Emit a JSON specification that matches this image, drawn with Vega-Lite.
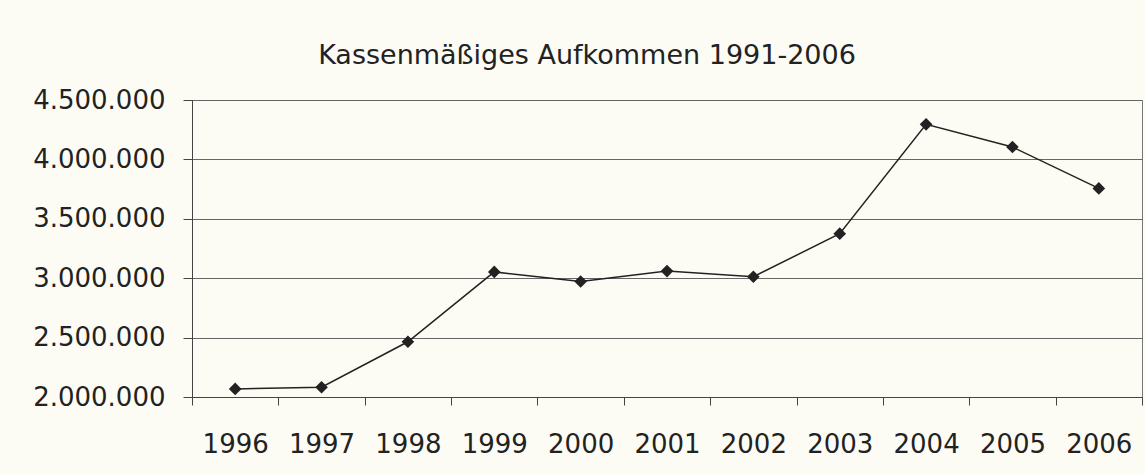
{
  "$schema": "https://vega.github.io/schema/vega-lite/v6.json",
  "width": 950,
  "height": 297,
  "autosize": {"type": "none"},
  "padding": {"left": 192, "top": 100, "right": 3, "bottom": 78},
  "background": "#fcfcf5",
  "config": {
    "locale": {"number": {"decimal": ",", "thousands": ".", "grouping": [3], "currency": ["", " €"]}},
    "view": {"stroke": "#777", "strokeWidth": 1},
    "font": "DejaVu Sans"
  },
  "title": {
    "text": "Kassenmäßiges Aufkommen 1991-2006",
    "fontSize": 27,
    "fontWeight": "normal",
    "font": "DejaVu Sans",
    "color": "#222",
    "anchor": "middle",
    "frame": "group",
    "baseline": "alphabetic",
    "offset": 37,
    "dx": -80,
    "dy": 41
  },
  "data": {
    "values": [
      {"year": "1996", "value": 2068000},
      {"year": "1997", "value": 2082000},
      {"year": "1998", "value": 2465000},
      {"year": "1999", "value": 3053000},
      {"year": "2000", "value": 2972000},
      {"year": "2001", "value": 3060000},
      {"year": "2002", "value": 3012000},
      {"year": "2003", "value": 3375000},
      {"year": "2004", "value": 4295000},
      {"year": "2005", "value": 4104000},
      {"year": "2006", "value": 3756000}
    ]
  },
  "encoding": {
    "x": {
      "field": "year",
      "type": "ordinal",
      "scale": {"type": "band", "paddingInner": 0, "paddingOuter": 0},
      "axis": {
        "title": null,
        "tickBand": "extent",
        "labelAngle": 0,
        "labelFont": "DejaVu Sans",
        "labelFontSize": 26,
        "labelColor": "#222",
        "labelPadding": 26,
        "tickSize": 8,
        "tickColor": "#444",
        "domainColor": "#444",
        "grid": false
      }
    },
    "y": {
      "field": "value",
      "type": "quantitative",
      "scale": {"domain": [2000000, 4500000], "nice": false, "zero": false},
      "axis": {
        "title": null,
        "values": [2000000, 2500000, 3000000, 3500000, 4000000, 4500000],
        "format": ",d",
        "labelFont": "DejaVu Sans",
        "labelFontSize": 26,
        "labelColor": "#222",
        "labelPadding": 18,
        "tickSize": 9,
        "tickColor": "#444",
        "domainColor": "#444",
        "gridColor": "#666",
        "gridOpacity": 1
      }
    }
  },
  "layer": [
    {"mark": {"type": "line", "color": "#222", "strokeWidth": 1.5}},
    {"mark": {"type": "point", "shape": "diamond", "filled": true, "color": "#222", "size": 160, "opacity": 1}}
  ]
}
